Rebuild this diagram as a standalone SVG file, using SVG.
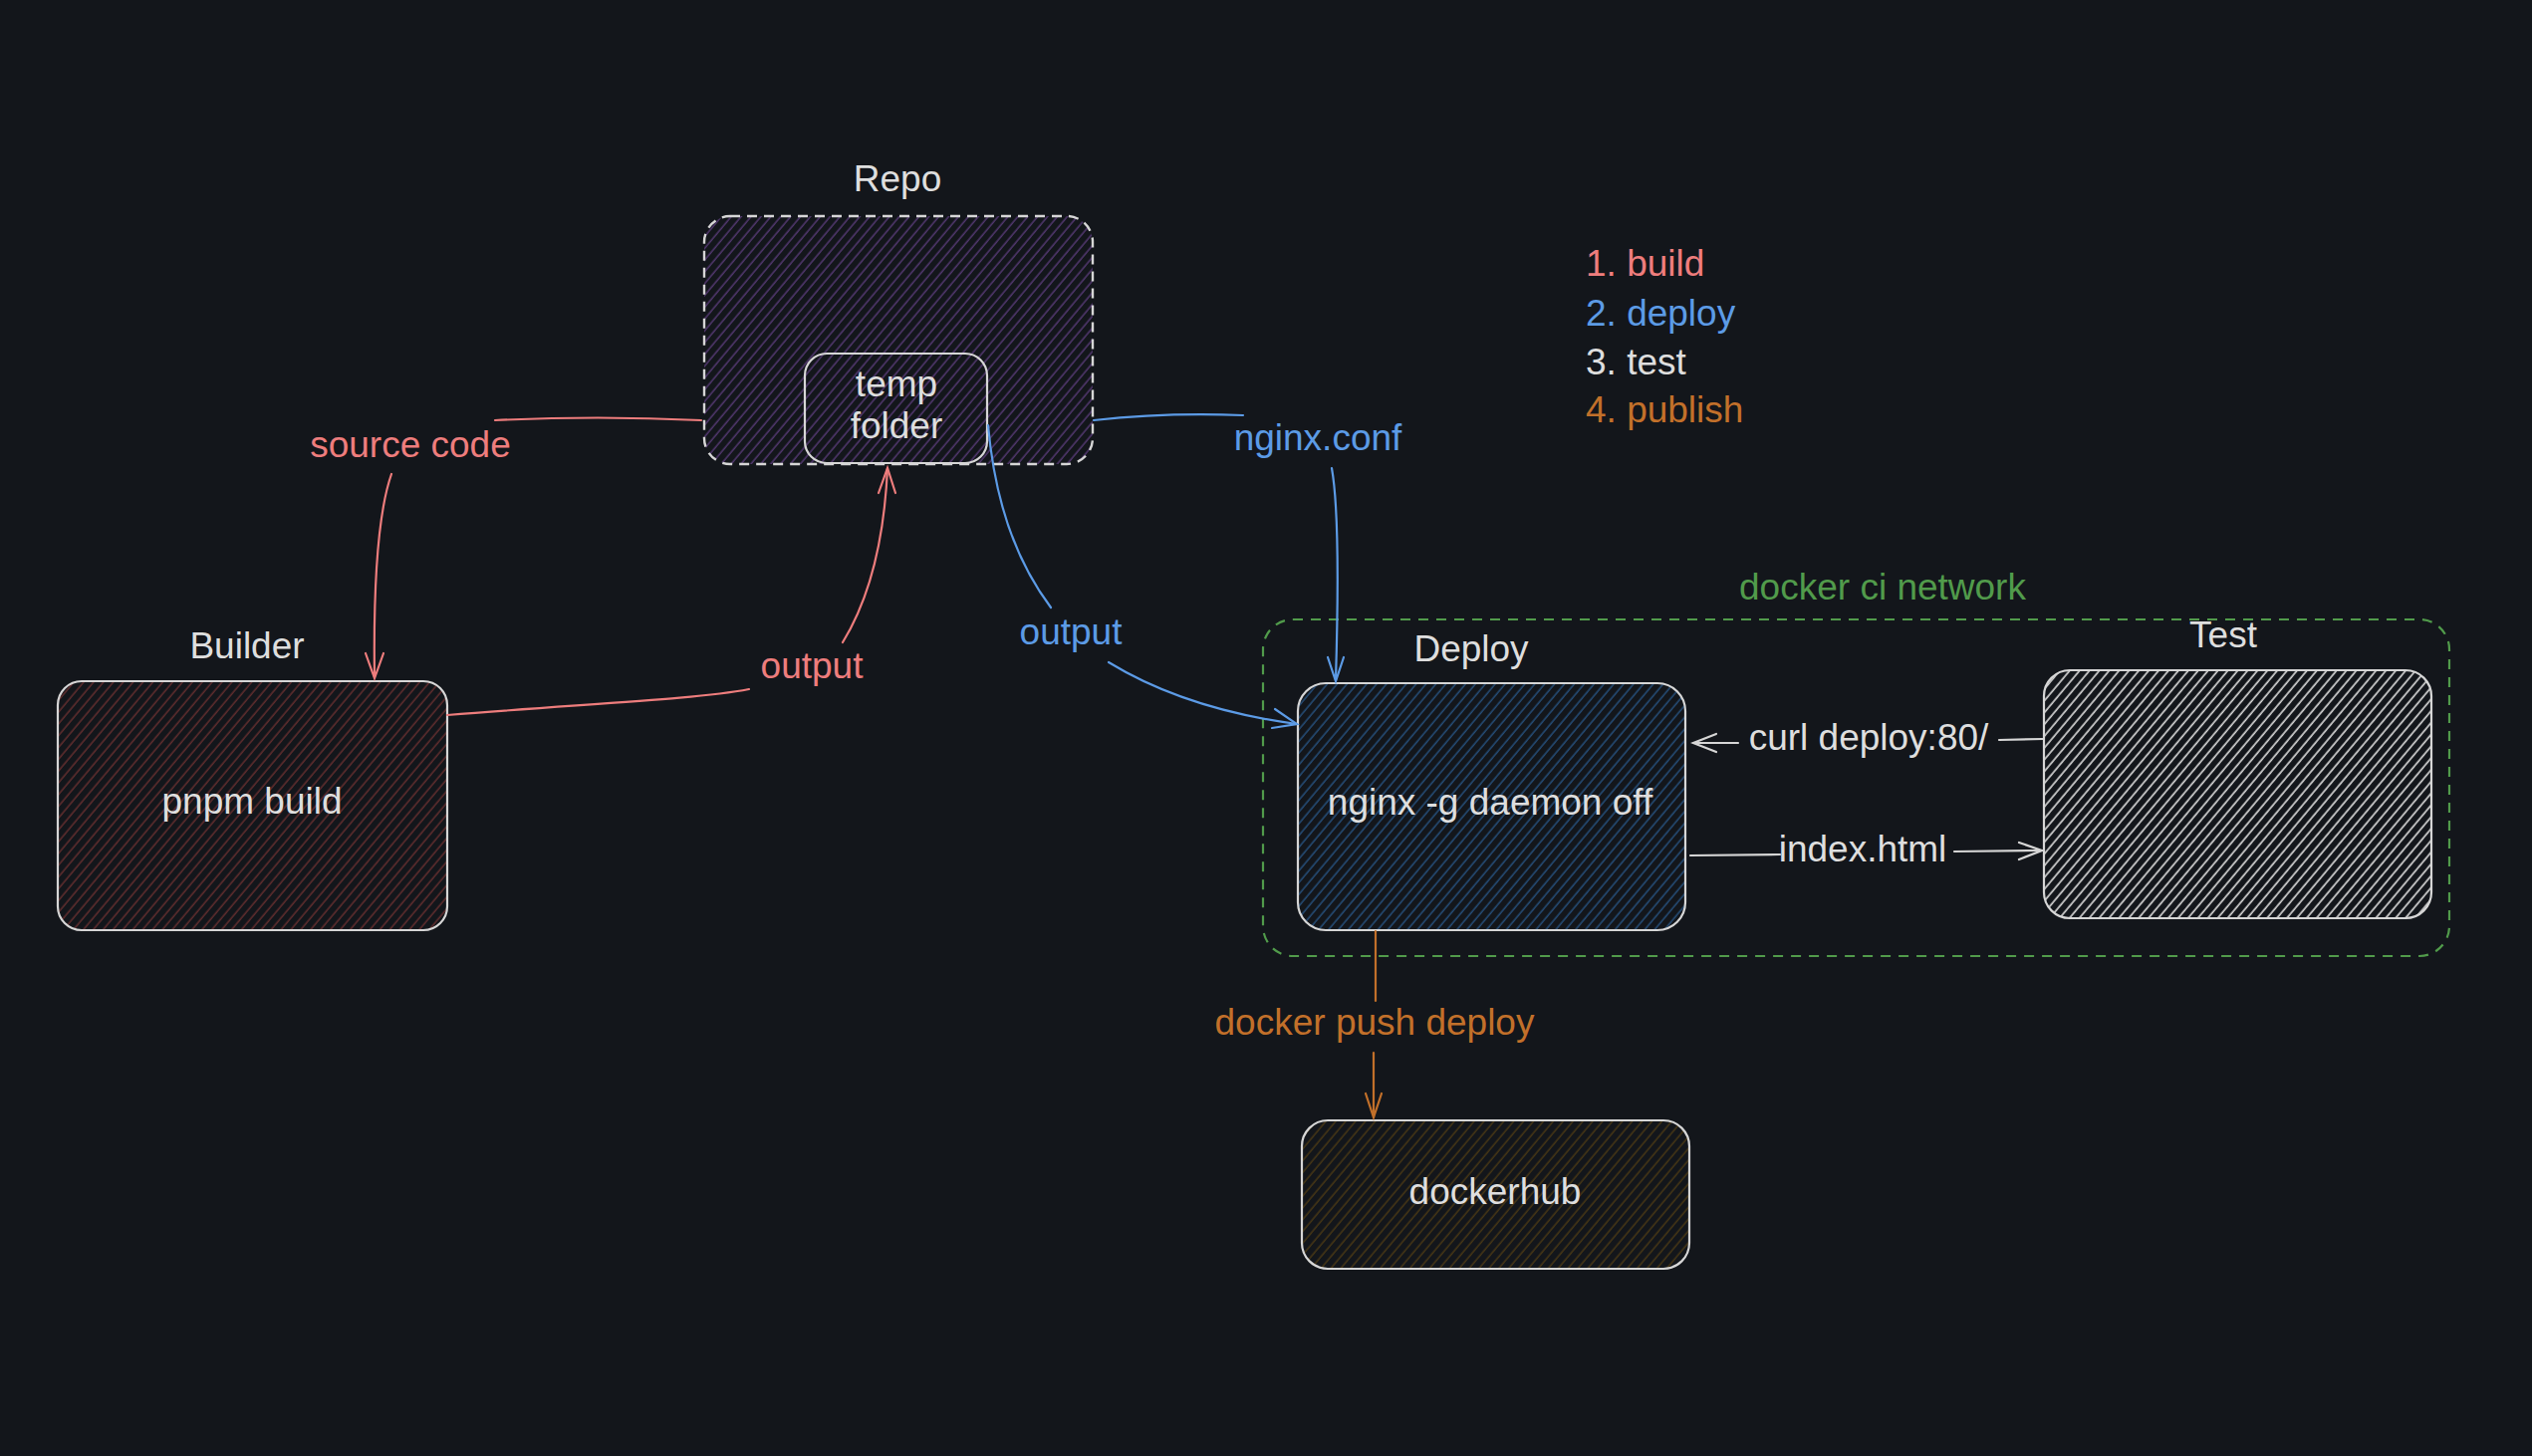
<svg xmlns="http://www.w3.org/2000/svg" width="2542" height="1462" viewBox="0 0 2542 1462">
<defs>
<style>
text{font-family:"Liberation Sans","DejaVu Sans",sans-serif;font-size:37px;text-anchor:middle}
.w{fill:#dedede}
.r{fill:#ee7d7d}
.b{fill:#5c9be6}
.g{fill:#519b4b}
.o{fill:#c2702a}
.box{stroke:#d6d6d6;stroke-width:2.2}
.cr{fill:none;stroke:#ee7d7d;stroke-width:2.2;stroke-linecap:round}
.cb{fill:none;stroke:#5c9be6;stroke-width:2.2;stroke-linecap:round}
.cw{fill:none;stroke:#d6d6d6;stroke-width:2.2;stroke-linecap:round}
.co{fill:none;stroke:#c2702a;stroke-width:2.2;stroke-linecap:round}
</style>
<pattern id="hp" patternUnits="userSpaceOnUse" width="7.6" height="20" patternTransform="rotate(40)"><line x1="3" y1="0" x2="3" y2="20" stroke="#5b3d7c" stroke-width="1.3"/></pattern>
<pattern id="hr" patternUnits="userSpaceOnUse" width="7.6" height="20" patternTransform="rotate(40)"><line x1="3" y1="0" x2="3" y2="20" stroke="#6c3131" stroke-width="1.3"/></pattern>
<pattern id="hb" patternUnits="userSpaceOnUse" width="7.6" height="20" patternTransform="rotate(40)"><line x1="3" y1="0" x2="3" y2="20" stroke="#285686" stroke-width="1.3"/></pattern>
<pattern id="hw" patternUnits="userSpaceOnUse" width="7.6" height="20" patternTransform="rotate(40)"><line x1="3" y1="0" x2="3" y2="20" stroke="#d2d2d2" stroke-width="1.7"/></pattern>
<pattern id="ho" patternUnits="userSpaceOnUse" width="7.6" height="20" patternTransform="rotate(40)"><line x1="3" y1="0" x2="3" y2="20" stroke="#4e3b14" stroke-width="1.3"/></pattern>
</defs>
<rect width="2542" height="1462" fill="#13161b"/>

<g id="network">
<rect x="1268" y="622" width="1191" height="338" rx="30" fill="none" stroke="#519b4b" stroke-width="2.2" stroke-dasharray="10 8"/>
<text class="g" x="1890" y="602">docker ci network</text>
</g>

<g id="repo">
<text class="w" x="901" y="192">Repo</text>
<rect x="707" y="217" width="390" height="249" rx="26" fill="url(#hp)" stroke="#d6d6d6" stroke-width="2.4" stroke-dasharray="10 7"/>
</g>

<g id="temp-folder">
<rect class="box" x="808" y="355" width="183" height="110" rx="22" fill="none"/>
<text class="w" x="900" y="398">temp</text>
<text class="w" x="900" y="440">folder</text>
</g>

<g id="builder">
<text class="w" x="248" y="661">Builder</text>
<rect class="box" x="58" y="684" width="391" height="250" rx="24" fill="url(#hr)"/>
<text class="w" x="253" y="817">pnpm build</text>
</g>

<g id="deploy">
<text class="w" x="1477" y="664">Deploy</text>
<rect class="box" x="1303" y="686" width="389" height="248" rx="28" fill="url(#hb)"/>
<text class="w" x="1496" y="818">nginx -g daemon off</text>
</g>

<g id="test">
<text class="w" x="2232" y="650">Test</text>
<rect class="box" x="2052" y="673" width="389" height="249" rx="26" fill="url(#hw)"/>
</g>

<g id="dockerhub">
<rect class="box" x="1307" y="1125" width="389" height="149" rx="26" fill="url(#ho)"/>
<text class="w" x="1501" y="1209">dockerhub</text>
</g>

<g id="legend">
<text class="r" x="1592" y="277" style="text-anchor:start">1. build</text>
<text class="b" x="1592" y="327" style="text-anchor:start">2. deploy</text>
<text class="w" x="1592" y="376" style="text-anchor:start">3. test</text>
<text class="o" x="1592" y="424" style="text-anchor:start">4. publish</text>
</g>

<g id="connectors">
<path class="cr" d="M704,422 Q600,417 497,422"/>
<path class="cr" d="M393,476 Q374,530 376,680"/>
<path class="cr" d="M367,656 L376,681 L385,656"/>
<text class="r" x="412" y="459">source code</text>
<path class="cr" d="M449,718 C600,706 700,702 752,692"/>
<path class="cr" d="M846,645 Q886,580 891,470"/>
<path class="cr" d="M882,495 L891,470 L899,495"/>
<text class="r" x="815" y="681">output</text>
<path class="cb" d="M992,427 Q1002,540 1055,610"/>
<path class="cb" d="M1113,665 Q1190,712 1302,727"/>
<path class="cb" d="M1280,712 L1302,727 L1277,731"/>
<text class="b" x="1075" y="647">output</text>
<path class="cb" d="M1098,422 Q1170,414 1248,417"/>
<path class="cb" d="M1337,470 Q1346,520 1341,683"/>
<path class="cb" d="M1333,660 L1341,684 L1349,660"/>
<text class="b" x="1323" y="452">nginx.conf</text>
<path class="cw" d="M2051,742 L2007,743"/>
<path class="cw" d="M1745,746 L1700,746"/>
<path class="cw" d="M1723,737 L1700,746 L1723,755"/>
<text class="w" x="1876" y="753">curl deploy:80/</text>
<path class="cw" d="M1697,859 L1787,858"/>
<path class="cw" d="M1962,855 L2050,854"/>
<path class="cw" d="M2027,846 L2050,854 L2027,863"/>
<text class="w" x="1870" y="865">index.html</text>
<path class="co" d="M1381,935 L1381,1005"/>
<path class="co" d="M1379,1057 L1379,1122"/>
<path class="co" d="M1371,1098 L1379,1122 L1387,1098"/>
<text class="o" x="1380" y="1039">docker push deploy</text>
</g>
</svg>
